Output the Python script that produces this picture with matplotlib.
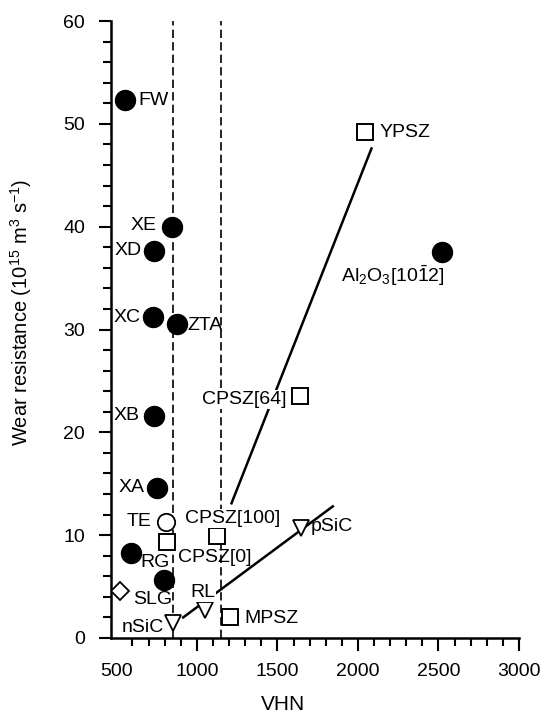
import matplotlib
matplotlib.use("Agg")
import matplotlib.pyplot as plt
import numpy as np

plt.rcParams['font.family'] = ['Liberation Sans', 'DejaVu Sans']
plt.rcParams['mathtext.default'] = 'regular'
plt.rcParams['font.size'] = 14

# filled circles (oxide / glass materials)
circle_names = ["FW", "XE", "XD", "XC", "ZTA", "XB", "XA", "RG", "", "Al2O3"]
circle_vhn = [554, 845, 734, 728, 876, 734, 752, 591, 798, 2523]
circle_wear = [52.3, 40.0, 37.6, 31.2, 30.5, 21.6, 14.6, 8.3, 5.6, 37.5]

# open circle
te_vhn = [808]
te_wear = [11.3]

# zirconias (open squares)
square_names = ["YPSZ", "CPSZ[64]", "CPSZ[100]", "CPSZ[0]", "MPSZ"]
square_vhn = [2046, 1640, 1122, 816, 1208]
square_wear = [49.2, 23.5, 9.9, 9.3, 2.0]

# soda-lime glass (diamond)
slg_vhn = [523]
slg_wear = [4.6]

# SiC (down triangles)
sic_names = ["nSiC", "RL", "pSiC"]
sic_vhn = [853, 1050, 1648]
sic_wear = [1.5, 2.7, 10.7]

# trend lines
zr_line_vhn = [1215, 2084]
zr_line_wear = [13.1, 47.6]
sic_line_vhn = [915, 1844]
sic_line_wear = [2.0, 12.8]

# dashed guide lines
guide_vhn = [850, 1150]

fig = plt.figure(figsize=(5.6, 7.18), dpi=100)
ax = fig.add_axes([111.5 / 560, 1 - 638 / 718, (519 - 111.5) / 560, (638 - 21) / 718])

for g in guide_vhn:
    ax.axvline(g, color='black', lw=1.2, linestyle=(0, (5, 2.5)), zorder=1)

ax.plot(zr_line_vhn, zr_line_wear, color='black', lw=1.8, zorder=2)
ax.plot(sic_line_vhn, sic_line_wear, color='black', lw=1.8, zorder=2)

ax.plot(circle_vhn, circle_wear, 'o', ms=14.4, color='black', mec='black', zorder=4)
ax.plot(te_vhn, te_wear, 'o', ms=12.5, mfc='white', mec='black', mew=1.3, zorder=4)
ax.plot(square_vhn, square_wear, 's', ms=12, mfc='white', mec='black', mew=1.4, zorder=4)
ax.plot(slg_vhn, slg_wear, 'D', ms=9.5, mfc='white', mec='black', mew=1.3, zorder=4)
ax.plot(sic_vhn, sic_wear, 'v', ms=11, mfc='white', mec='black', mew=1.3, zorder=4)

# point labels
labels = [
    ("FW", 635, 52.3, 'left'),
    ("XE", 752, 40.1, 'right'),
    ("XD", 659, 37.7, 'right'),
    ("XC", 653, 31.2, 'right'),
    ("ZTA", 944, 30.4, 'left'),
    ("XB", 647, 21.6, 'right'),
    ("XA", 678, 14.6, 'right'),
    ("TE", 721, 11.3, 'right'),
    ("RG", 647, 7.3, 'left'),
    ("SLG", 604, 3.7, 'left'),
    ("nSiC", 796, 1.0, 'right'),
    ("MPSZ", 1297, 1.9, 'left'),
    ("pSiC", 1706, 10.8, 'left'),
    ("CPSZ[0]", 882, 7.8, 'left'),
    ("YPSZ", 2133, 49.2, 'left'),
]
for txt, x, y, ha in labels:
    ax.text(x, y, txt, ha=ha, va='center', fontsize=14, zorder=5)

masked = [
    ("CPSZ[100]", 926, 11.6, 'left'),
    ("CPSZ[64]", 1031, 23.2, 'left'),
    ("RL", 1037, 4.4, 'center'),
]
for txt, x, y, ha in masked:
    ax.text(x, y, txt, ha=ha, va='center', fontsize=14, zorder=5,
            bbox=dict(facecolor='white', edgecolor='none', pad=0.5))

ax.text(2220, 35.2, r"Al$_2$O$_3$[10$\bar{1}$2]", ha='center', va='center',
        fontsize=14, zorder=5)

ax.set_xlim(470, 3000)
ax.set_ylim(0, 60)
ax.set_xticks(np.arange(500, 3001, 500))
ax.set_xticks(np.arange(600, 3000, 100), minor=True)
ax.set_yticks(np.arange(0, 61, 10))
ax.set_yticks(np.arange(0, 61, 2), minor=True)
ax.xaxis.get_major_ticks()[0].tick1line.set_visible(False)

ax.spines['top'].set_visible(False)
ax.spines['right'].set_visible(False)
ax.spines['left'].set_linewidth(1.8)
ax.spines['bottom'].set_linewidth(1.8)
ax.tick_params(which='major', length=9, width=1.5, labelsize=14)
ax.tick_params(which='minor', length=6, width=1.5)
ax.tick_params(axis='y', which='major', pad=10)
ax.tick_params(axis='x', which='major', pad=9)

ax.set_xlabel("VHN", fontsize=15)
ax.xaxis.set_label_coords(0.42, -0.092)
ax.set_ylabel(r"Wear resistance (10$^{15}$ m$^{3}$ s$^{-1}$)", fontsize=14.5)
ax.yaxis.set_label_coords(-0.19, 0.527)

fig.savefig("out.png", dpi=100)
